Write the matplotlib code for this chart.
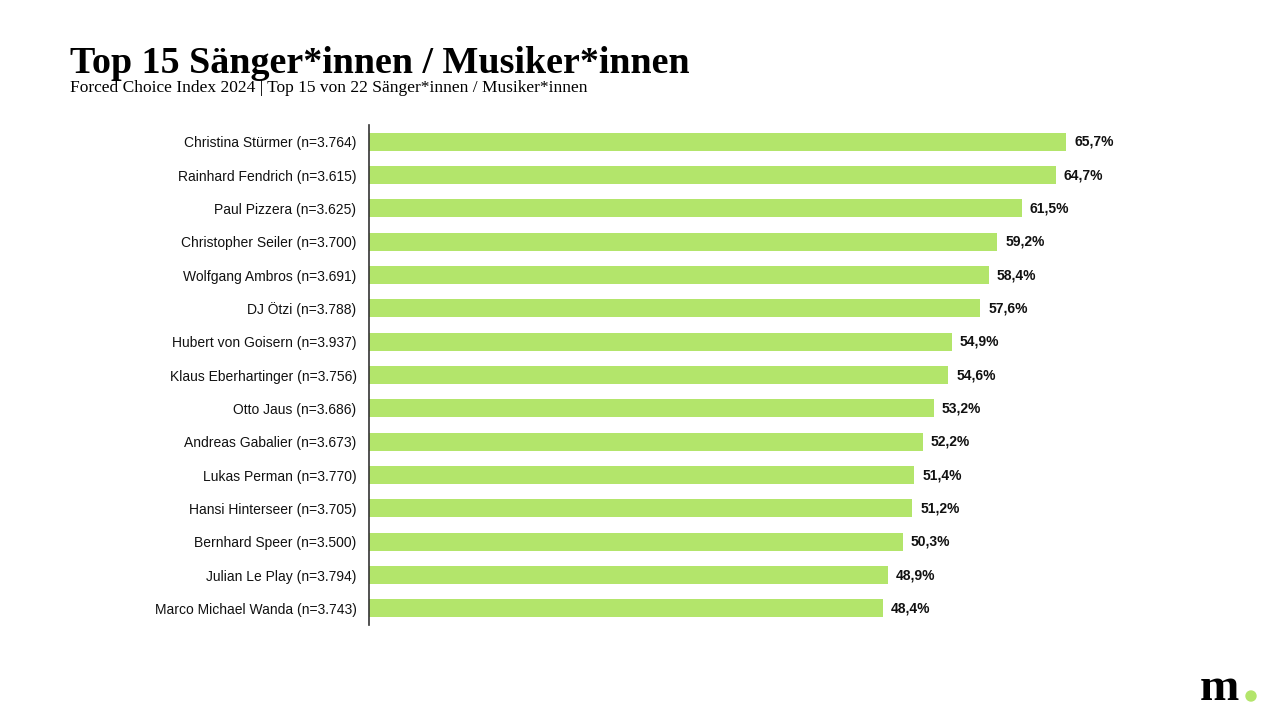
import matplotlib
matplotlib.use("Agg")
import matplotlib.pyplot as plt
from matplotlib.patches import Ellipse

names = ["Christina Stürmer", "Rainhard Fendrich", "Paul Pizzera", "Christopher Seiler",
         "Wolfgang Ambros", "DJ Ötzi", "Hubert von Goisern", "Klaus Eberhartinger",
         "Otto Jaus", "Andreas Gabalier", "Lukas Perman", "Hansi Hinterseer",
         "Bernhard Speer", "Julian Le Play", "Marco Michael Wanda"]
n_values = ["3.764", "3.615", "3.625", "3.700", "3.691", "3.788", "3.937", "3.756",
            "3.686", "3.673", "3.770", "3.705", "3.500", "3.794", "3.743"]
values = [65.7, 64.7, 61.5, 59.2, 58.4, 57.6, 54.9, 54.6, 53.2, 52.2, 51.4, 51.2, 50.3, 48.9, 48.4]

W, H = 1270, 713
fig = plt.figure(figsize=(W / 100, H / 100), dpi=100)
ax = fig.add_axes([369 / W, 88 / H, 849 / W, 500 / H])

green = "#b3e56b"
ys = list(range(len(values)))
ax.barh(ys, values, height=0.54, color=green)
ax.set_ylim(len(values) - 0.5, -0.5)
ax.set_xlim(0, 80)
ax.set_yticks(ys)
ax.set_yticklabels([f"{nm} (n={n})" for nm, n in zip(names, n_values)],
                   fontfamily="Liberation Sans", fontsize=10, color="#111111")
ax.tick_params(axis="y", length=0, pad=9)
ax.set_xticks([])
for s in ["top", "right", "bottom"]:
    ax.spines[s].set_visible(False)
ax.spines["left"].set_color("#333333")
ax.spines["left"].set_linewidth(1.2)

for y, v in zip(ys, values):
    ax.text(v + 0.75, y, f"{v:.1f}%".replace(".", ","), va="center", ha="left",
            fontfamily="Liberation Sans", fontweight="bold", fontsize=10, color="#111111")

title = fig.text(70 / W, 1 - 73 / H, "Top 15 Sänger*innen / Musiker*innen",
                 fontfamily="Liberation Serif", fontweight="bold", fontsize=28,
                 va="baseline", ha="left", color="black")
fig.canvas.draw()
tw = title.get_window_extent().width
title.set_fontsize(28 * 620 / tw)

fig.text(70 / W, 1 - 92 / H,
         "Forced Choice Index 2024 | Top 15 von 22 Sänger*innen / Musiker*innen",
         fontfamily="Liberation Serif", fontsize=12.5, va="baseline", ha="left", color="black")

# logo
fig.text(1200 / W, 1 - 700 / H, "m", fontfamily="Liberation Serif", fontweight="bold",
         fontsize=34, va="baseline", ha="left", color="black")
fig.patches.append(Ellipse((1251 / W, 1 - 696 / H), 10 / W, 10 / H,
                           transform=fig.transFigure, color=green))

fig.savefig("out.png", dpi=100)
